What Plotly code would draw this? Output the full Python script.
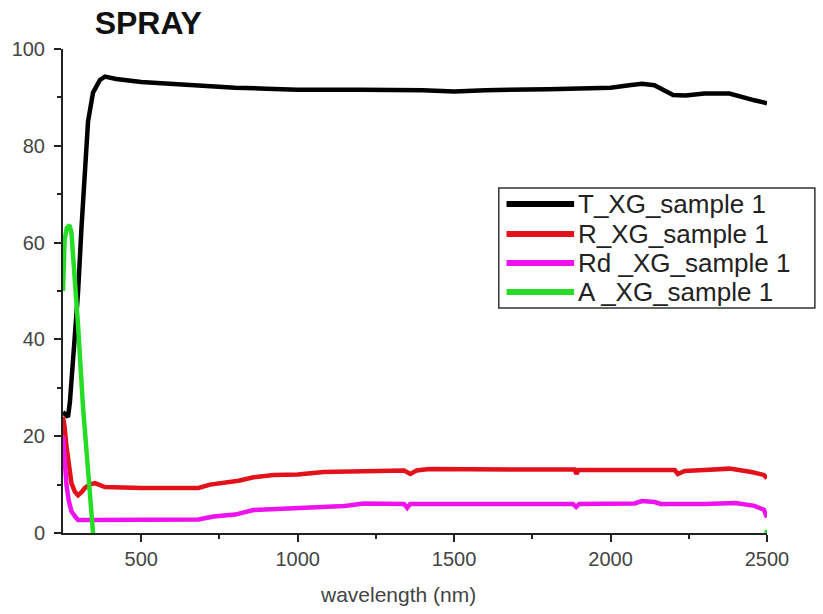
import plotly.graph_objects as go

# Wavelength (nm) / value (%) pairs for each spectrum
T_wl = [250, 258, 266, 272, 277, 288, 298, 309, 320, 330, 346, 368, 384, 420, 500, 600, 700,
        800, 900, 1000, 1200, 1400, 1500, 1600, 1800, 2000, 2060, 2100, 2140, 2200, 2240,
        2300, 2380, 2420, 2460, 2500]
T_val = [25, 24.5, 24, 27, 31.6, 41, 49.6, 63, 73, 85, 91, 93.6, 94.3, 93.8, 93.2, 92.8, 92.2,
         92.0, 91.8, 91.6, 91.6, 91.5, 91.2, 91.5, 91.7, 92.0, 92.5, 92.8, 92.5, 90.5, 90.4,
         90.8, 90.8, 90.0, 89.4, 88.8]

R_wl = [250, 255, 261, 268, 277, 288, 298, 310, 320, 335, 352, 384, 500, 683, 720, 811, 859,
        923, 1000, 1083, 1300, 1340, 1360, 1380, 1420, 1600, 1885, 1891, 1897, 2000, 2205,
        2215, 2237, 2300, 2380, 2450, 2490, 2500]
R_val = [24, 22, 18, 14, 10.3, 8.5, 7.8, 8.5, 9.3, 10, 10.3, 9.5, 9.3, 9.3, 10, 10.8, 11.5,
         12, 12.1, 12.6, 12.8, 12.9, 12.2, 12.9, 13.2, 13.1, 13.1, 12.2, 13, 13, 13,
         12.2, 12.8, 13, 13.3, 12.6, 12.0, 11.3]

Rd_wl = [250, 255, 261, 268, 277, 290, 298, 350, 500, 683, 731, 800, 859, 950, 1019, 1150,
         1211, 1340, 1350, 1360, 1500, 1880, 1890, 1900, 2077, 2100, 2141, 2160, 2300, 2400,
         2460, 2490, 2500]
Rd_val = [20, 15, 10, 6.8, 4.5, 3.3, 2.7, 2.7, 2.7, 2.8, 3.4, 3.8, 4.75, 5.0, 5.4, 5.6,
          6.1, 6.0, 5.2, 6.0, 6.0, 6.0, 5.4, 6.0, 6.1, 6.6, 6.4, 6.0, 6.0, 6.2,
          5.6, 4.8, 3.2]

A_wl = [250, 255, 262, 271, 277, 287, 298, 314, 330, 346, 360, 2490, 2500]
A_val = [50, 60.5, 63, 63.6, 62, 54, 43, 26, 12.4, 0, -4, -4, 0.6]

names = ["T_XG_sample 1", "R_XG_sample 1", "Rd _XG_sample 1", "A _XG_sample 1"]
colors = ["#000000", "#e3121a", "#ee12ee", "#25dd25"]
wavelengths = [T_wl, R_wl, Rd_wl, A_wl]
values = [T_val, R_val, Rd_val, A_val]

x_ticks = [500, 1000, 1500, 2000, 2500]
x_minor = [750, 1250, 1750, 2250]
y_ticks = [0, 20, 40, 60, 80, 100]
y_minor = [10, 30, 50, 70, 90]

FONT = "Liberation Sans, Arial, sans-serif"

fig = go.Figure()
for name, wl, val, color in zip(names, wavelengths, values, colors):
    fig.add_trace(go.Scatter(x=wl, y=val, mode="lines", name=name, showlegend=False,
                             line=dict(color=color, width=4.5)))

# Boxed key in the upper right of the plot area (paper coordinates)
key_left, key_right, key_top, key_bottom = 0.619, 1.068, 0.713, 0.465
row_y = [0.680, 0.618, 0.558, 0.498]
shapes = [dict(type="rect", xref="paper", yref="paper", x0=key_left, x1=key_right,
               y0=key_bottom, y1=key_top, line=dict(color="#333", width=1.5),
               fillcolor="white", layer="above")]
annotations = []
for name, color, yy in zip(names, colors, row_y):
    shapes.append(dict(type="line", xref="paper", yref="paper", x0=0.630, x1=0.726,
                       y0=yy, y1=yy, line=dict(color=color, width=6), layer="above"))
    annotations.append(dict(text=name, xref="paper", yref="paper", x=0.729, y=yy,
                            xanchor="left", yanchor="middle", showarrow=False,
                            font=dict(family=FONT, size=26, color="#222")))

# x-axis title
annotations.append(dict(text="wavelength (nm)", xref="paper", yref="paper", x=0.476, y=-0.128,
                        xanchor="center", yanchor="middle", showarrow=False,
                        font=dict(family=FONT, size=21, color="#444444")))

axis_font = dict(family=FONT, size=20, color="#444444")
fig.update_layout(
    width=823, height=614,
    margin=dict(l=63, r=56, t=49, b=81),
    paper_bgcolor="white", plot_bgcolor="white",
    title=dict(text="<b>SPRAY</b>", xref="container", yref="container",
               x=0.115, xanchor="left", y=0.963, yanchor="middle",
               font=dict(family=FONT, size=32, color="#111111")),
    xaxis=dict(range=[250, 2500], tickvals=x_ticks, ticks="outside", ticklen=7, tickwidth=2,
               tickcolor="#222", showline=True, linecolor="#222", linewidth=2,
               showgrid=False, zeroline=False, tickfont=axis_font,
               minor=dict(tickvals=x_minor, ticks="outside", ticklen=4,
                          tickwidth=1.5, tickcolor="#222")),
    yaxis=dict(range=[0, 100], tickvals=y_ticks, ticks="outside", ticklen=7, tickwidth=2,
               tickcolor="#222", showline=True, linecolor="#222", linewidth=2,
               showgrid=False, zeroline=False, tickfont=axis_font, ticklabelstandoff=5,
               minor=dict(tickvals=y_minor, ticks="outside", ticklen=4,
                          tickwidth=1.5, tickcolor="#222")),
    shapes=shapes,
    annotations=annotations,
    showlegend=False,
)

fig.write_html("out.html")
